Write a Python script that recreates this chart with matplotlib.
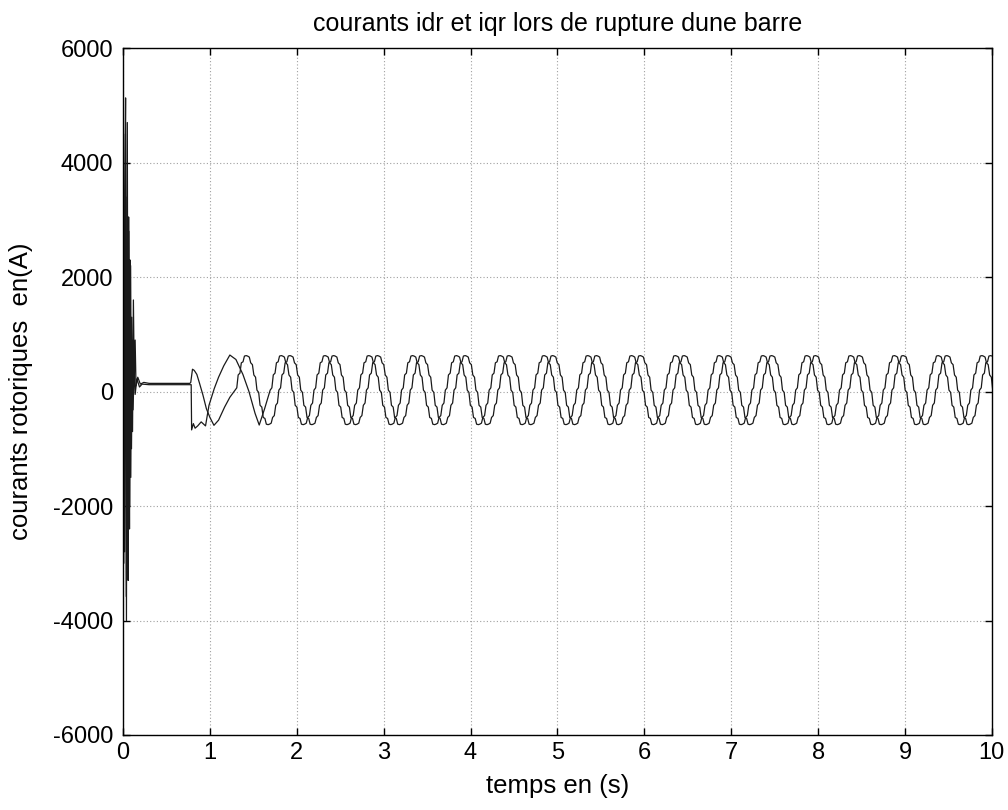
import numpy as np
import matplotlib
matplotlib.use("Agg")
import matplotlib.pyplot as plt

plt.rcParams['font.family'] = ['Liberation Sans', 'DejaVu Sans']
plt.rcParams['axes.unicode_minus'] = False

# ---------------- data ----------------
# start-up transient (time s, current A)
idr_trans_t = [0.0, 0.01, 0.02, 0.03, 0.04, 0.05, 0.06, 0.065, 0.075, 0.08,
               0.09, 0.1, 0.11, 0.12, 0.13, 0.14, 0.15, 0.17, 0.2, 0.24, 0.3,
               0.77, 0.78, 0.80, 0.82, 0.85, 0.88, 0.92, 0.96, 1.0, 1.047,
               1.1, 1.17, 1.23, 1.29]
idr_trans_v = [0, -3000, 3500, 5130, -4000, 4700, -3300, 3050, -2400, 2300,
               -1500, 1300, -700, 1600, 200, 900, 100, 250, 130, 160, 143,
               143, 160, 390, 370, 300, 150, -60, -300, -450, -590,
               -500, -270, -100, 25]

iqr_trans_t = [0.0, 0.008, 0.018, 0.028, 0.038, 0.048, 0.058, 0.068, 0.078, 0.088,
               0.098, 0.108, 0.116, 0.13, 0.14, 0.16, 0.19, 0.22, 0.3,
               0.77, 0.785, 0.79, 0.81, 0.83, 0.86, 0.9, 0.95, 0.99, 1.05,
               1.1, 1.16, 1.23, 1.3, 1.38, 1.45, 1.52, 1.568, 1.63, 1.694]
iqr_trans_v = [0, 2500, -2800, 4500, -3580, 3400, -2600, 2800, -2000, 2200,
               -1000, 900, -320, 500, -50, 220, 80, 130, 120,
               120, 120, -670, -560, -640, -600, -530, -600, -240, 50,
               250, 450, 638, 560, 300, 0, -380, -585, -300, 25]

# one steady-state period (with the stair-like ripple)
period = 0.504
cycle_phase = [0.0, 0.039, 0.071, 0.111, 0.143, 0.182, 0.214, 0.254,
               0.286, 0.325, 0.357, 0.396, 0.429, 0.468, 0.5, 0.539,
               0.571, 0.611, 0.643, 0.682, 0.714, 0.754, 0.786, 0.825,
               0.857, 0.896, 0.929, 0.968]
cycle_value = [25, 65, 290, 322, 502, 520, 620, 628,
               620, 602, 502, 470, 290, 250, 25, -15,
               -240, -272, -452, -470, -570, -578, -570, -552,
               -452, -420, -240, -200]
idr_steady_start = 1.29
iqr_steady_start = 1.694
t_end = 10.0

x_ticks = [0, 1, 2, 3, 4, 5, 6, 7, 8, 9, 10]
y_ticks = [-6000, -4000, -2000, 0, 2000, 4000, 6000]

title = "courants idr et iqr lors de rupture dune barre"
xlabel = "temps en (s)"
ylabel = "courants rotoriques  en(A)"


def build(trans_t, trans_v, start):
    n = int(np.ceil((t_end - start) / period)) + 1
    ph = np.asarray(cycle_phase)
    vals = np.asarray(cycle_value, dtype=float)
    ts = (start + period * (np.arange(n)[:, None] + ph[None, :])).ravel()
    vs = np.tile(vals, n)
    t = np.concatenate([trans_t, ts[1:]])
    v = np.concatenate([trans_v, vs[1:]])
    m = t <= t_end + 0.05
    return t[m], v[m]


t_idr, v_idr = build(idr_trans_t, idr_trans_v, idr_steady_start)
t_iqr, v_iqr = build(iqr_trans_t, iqr_trans_v, iqr_steady_start)

# ---------------- figure ----------------
fig = plt.figure(figsize=(10.08, 8.10), dpi=100)
ax = fig.add_axes([0.122, 0.0926, 0.862, 0.848])

ax.plot(t_idr, v_idr, color='#1a1a1a', lw=0.9)
ax.plot(t_iqr, v_iqr, color='#1a1a1a', lw=0.9)

ax.set_xlim(0, 10)
ax.set_ylim(-6000, 6000)
ax.set_xticks(x_ticks)
ax.set_yticks(y_ticks)
ax.grid(True, color='#a0a0a0', linestyle=(0, (1, 2)), linewidth=0.8)
ax.tick_params(direction='in', length=5, width=1, top=True, right=True,
               labelsize=17)
ax.tick_params(axis='y', pad=7)
ax.tick_params(axis='x', pad=5)
for s in ax.spines.values():
    s.set_linewidth(1.0)
    s.set_color('black')

ax.set_title(title, fontsize=18, pad=12)
ax.set_xlabel(xlabel, fontsize=18.5, labelpad=7)
ax.set_ylabel(ylabel, fontsize=18.5, labelpad=14)

fig.savefig("out.png", dpi=100)
